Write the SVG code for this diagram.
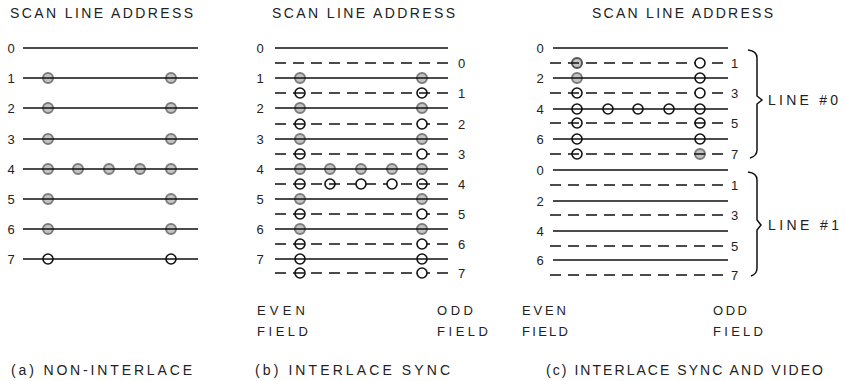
<svg xmlns="http://www.w3.org/2000/svg" width="845" height="381" viewBox="0 0 845 381">
<style>
text{font-family:"Liberation Sans",Arial,sans-serif;fill:#222}
.t{font-size:14px}
.n{font-size:13px}
.s{stroke:#111;stroke-width:1.5;fill:none}
.d{stroke:#111;stroke-width:1.5;fill:none;stroke-dasharray:11 7}
.g{fill:#c4c4c4;stroke:#7c7c7c;stroke-width:2}
.th{fill:none;stroke:#111;stroke-width:1.6}
.o{fill:#fff;stroke:#111;stroke-width:1.6}
</style>
<rect width="845" height="381" fill="#fff"/>

<!-- Panel A -->
<g id="panelA">
<text class="t" x="10" y="18" textLength="183" lengthAdjust="spacing">SCAN LINE ADDRESS</text>
<g class="n" text-anchor="middle">
<text x="11" y="53">0</text><text x="11" y="83">1</text><text x="11" y="113">2</text><text x="11" y="144">3</text>
<text x="11" y="174">4</text><text x="11" y="204">5</text><text x="11" y="234">6</text><text x="11" y="264">7</text>
</g>
<g class="g">
<circle cx="48" cy="78" r="5"/><circle cx="171" cy="78" r="5"/>
<circle cx="48" cy="108" r="5"/><circle cx="171" cy="108" r="5"/>
<circle cx="48" cy="139" r="5"/><circle cx="171" cy="139" r="5"/>
<circle cx="48" cy="169" r="5"/><circle cx="78" cy="169" r="5"/><circle cx="109" cy="169" r="5"/><circle cx="140" cy="169" r="5"/><circle cx="171" cy="169" r="5"/>
<circle cx="48" cy="199" r="5"/><circle cx="171" cy="199" r="5"/>
<circle cx="48" cy="229" r="5"/><circle cx="171" cy="229" r="5"/>
</g>
<path class="s" d="M23 48H198M23 78H198M23 108H198M23 139H198M23 169H198M23 199H198M23 229H198M23 259H198"/>
<g class="th"><circle cx="48" cy="259" r="5"/><circle cx="171" cy="259" r="5"/></g>
<text class="t" x="11" y="375" textLength="181" lengthAdjust="spacing">(a) NON-INTERLACE</text>
</g>

<!-- Panel B -->
<g id="panelB">
<text class="t" x="272" y="18" textLength="183" lengthAdjust="spacing">SCAN LINE ADDRESS</text>
<g class="n" text-anchor="middle">
<text x="260" y="53">0</text><text x="260" y="83">1</text><text x="260" y="113">2</text><text x="260" y="144">3</text>
<text x="260" y="174">4</text><text x="260" y="204">5</text><text x="260" y="234">6</text><text x="260" y="264">7</text>
</g>
<g class="n">
<text x="458" y="68">0</text><text x="458" y="98">1</text><text x="458" y="129">2</text><text x="458" y="159">3</text>
<text x="458" y="189">4</text><text x="458" y="219">5</text><text x="458" y="249">6</text><text x="458" y="278">7</text>
</g>
<g class="g">
<circle cx="300" cy="78" r="5"/><circle cx="422" cy="78" r="5"/>
<circle cx="300" cy="108" r="5"/><circle cx="422" cy="108" r="5"/>
<circle cx="300" cy="139" r="5"/><circle cx="422" cy="139" r="5"/>
<circle cx="300" cy="169" r="5"/><circle cx="330" cy="169" r="5"/><circle cx="361" cy="169" r="5"/><circle cx="392" cy="169" r="5"/><circle cx="422" cy="169" r="5"/>
<circle cx="300" cy="199" r="5"/><circle cx="422" cy="199" r="5"/>
<circle cx="300" cy="229" r="5"/><circle cx="422" cy="229" r="5"/>
</g>
<path class="s" d="M275 48H448M275 78H448M275 108H448M275 139H448M275 169H448M275 199H448M275 229H448M275 259H448"/>
<path class="d" d="M275 63H448M275 93H448M275 124H448M275 154H448M275 184H448M275 214H448M275 244H448M275 273H448"/>
<g class="th">
<circle cx="300" cy="259" r="5"/><circle cx="422" cy="259" r="5"/>
<circle cx="300" cy="93" r="5"/><circle cx="422" cy="93" r="5"/>
<circle cx="300" cy="124" r="5"/><circle cx="300" cy="154" r="5"/>
<circle cx="300" cy="184" r="5"/><circle cx="330" cy="184" r="5"/><circle cx="422" cy="184" r="5"/>
<circle cx="300" cy="214" r="5"/><circle cx="300" cy="244" r="5"/><circle cx="300" cy="273" r="5"/>
</g>
<g class="o">
<circle cx="422" cy="124" r="5"/><circle cx="422" cy="154" r="5"/>
<circle cx="361" cy="184" r="5"/><circle cx="392" cy="184" r="5"/>
<circle cx="422" cy="214" r="5"/><circle cx="422" cy="244" r="5"/><circle cx="422" cy="273" r="5"/>
</g>
<text class="n" x="257" y="315" textLength="48" lengthAdjust="spacing">EVEN</text>
<text class="n" x="257" y="336" textLength="51" lengthAdjust="spacing">FIELD</text>
<text class="n" x="437" y="315" textLength="36" lengthAdjust="spacing">ODD</text>
<text class="n" x="437" y="336" textLength="51" lengthAdjust="spacing">FIELD</text>
<text class="t" x="255" y="375" textLength="195" lengthAdjust="spacing">(b) INTERLACE SYNC</text>
</g>

<!-- Panel C -->
<g id="panelC">
<text class="t" x="592" y="18" textLength="181" lengthAdjust="spacing">SCAN LINE ADDRESS</text>
<g class="n" text-anchor="middle">
<text x="540" y="53">0</text><text x="540" y="83">2</text><text x="540" y="114">4</text><text x="540" y="144">6</text>
<text x="540" y="175">0</text><text x="540" y="206">2</text><text x="540" y="236">4</text><text x="540" y="265">6</text>
</g>
<g class="n">
<text x="731" y="68">1</text><text x="731" y="98">3</text><text x="731" y="128">5</text><text x="731" y="159">7</text>
<text x="731" y="190">1</text><text x="731" y="220">3</text><text x="731" y="251">5</text><text x="731" y="280">7</text>
</g>
<g class="g">
<circle cx="577" cy="63" r="5" stroke="#555"/><circle cx="577" cy="78" r="5"/><circle cx="700" cy="154" r="5"/>
</g>
<path class="s" d="M553 48H728M553 78H728M553 109H728M553 139H728M553 170H728M553 201H728M553 231H728M553 260H728"/>
<path class="d" d="M550 63H726M550 93H726M550 123H726M550 154H726M550 185H726M550 215H726M550 246H726M550 275H726"/>
<g class="th">
<circle cx="700" cy="78" r="5"/>
<circle cx="577" cy="93" r="5"/>
<circle cx="577" cy="109" r="5"/><circle cx="608" cy="109" r="5"/><circle cx="638" cy="109" r="5"/><circle cx="669" cy="109" r="5"/><circle cx="700" cy="109" r="5"/>
<circle cx="577" cy="123" r="5"/><circle cx="700" cy="123" r="5"/>
<circle cx="577" cy="139" r="5"/><circle cx="700" cy="139" r="5"/>
<circle cx="577" cy="154" r="5"/>
</g>
<g class="o"><circle cx="700" cy="63" r="5"/><circle cx="700" cy="93" r="5"/></g>
<path class="s" stroke-width="1.3" d="M748 50Q757 51 757 58V96L762 100L757 104V150Q757 156 750 158"/>
<path class="s" stroke-width="1.3" d="M748 172Q757 173 757 180V220L761 225L757 230V268Q757 274 751 276"/>
<text class="t" x="768" y="105" textLength="70" lengthAdjust="spacing">LINE #0</text>
<text class="t" x="768" y="230" textLength="71" lengthAdjust="spacing">LINE #1</text>
<text class="n" x="522" y="315" textLength="44" lengthAdjust="spacing">EVEN</text>
<text class="n" x="522" y="336" textLength="46" lengthAdjust="spacing">FIELD</text>
<text class="n" x="713" y="315" textLength="34" lengthAdjust="spacing">ODD</text>
<text class="n" x="713" y="336" textLength="50" lengthAdjust="spacing">FIELD</text>
<text class="t" x="546" y="375" textLength="277" lengthAdjust="spacing">(c) INTERLACE SYNC AND VIDEO</text>
</g>
</svg>
